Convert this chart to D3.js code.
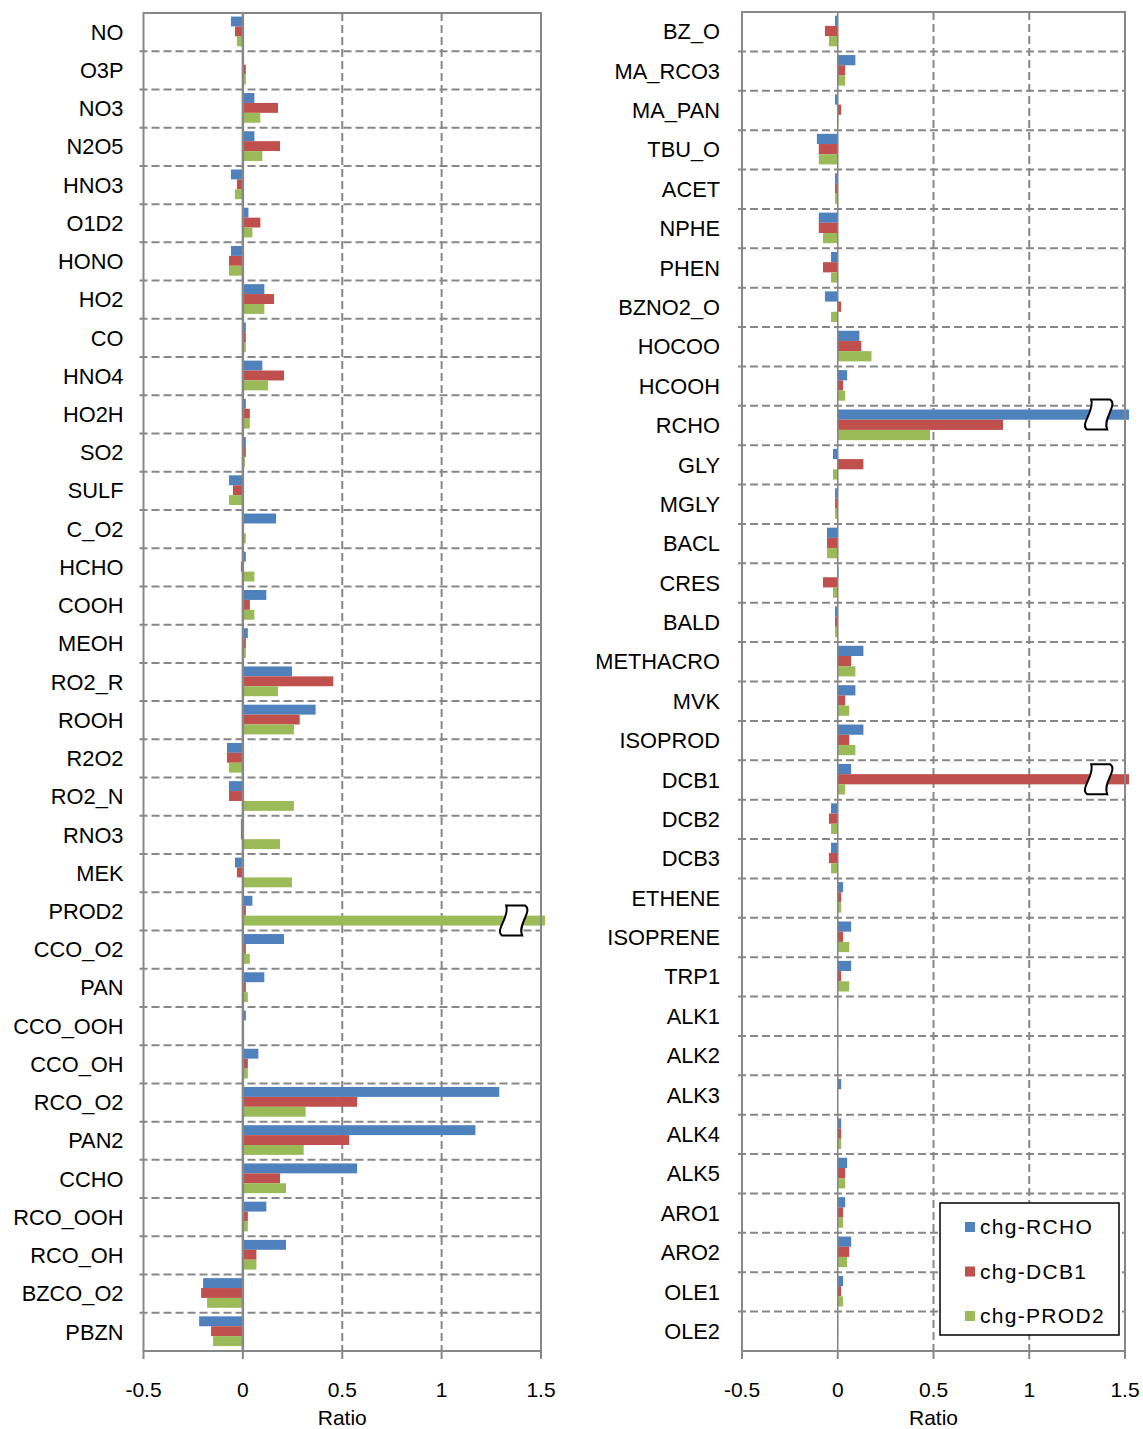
<!DOCTYPE html>
<html>
<head>
<meta charset="utf-8">
<script src="https://cdn.jsdelivr.net/npm/d3@7/dist/d3.min.js"></script>
<style>
  html, body { margin: 0; padding: 0; background: #fff; }
  svg { display: block; font-family: "Liberation Sans", Arial, sans-serif; }
</style>
</head>
<body>
<svg id="chart" width="1143" height="1429"></svg>
<script>
// ---------- DATA ----------
const seriesNames = ["chg-RCHO", "chg-DCB1", "chg-PROD2"];
const seriesColors = ["#4F81BD", "#C0504D", "#9BBB59"];
const xTicks = [-0.5, 0, 0.5, 1, 1.5];
const xTickLabels = ["-0.5", "0", "0.5", "1", "1.5"];

const leftCats = ["NO","O3P","NO3","N2O5","HNO3","O1D2","HONO","HO2","CO","HNO4","HO2H","SO2","SULF","C_O2","HCHO","COOH","MEOH","RO2_R","ROOH","R2O2","RO2_N","RNO3","MEK","PROD2","CCO_O2","PAN","CCO_OOH","CCO_OH","RCO_O2","PAN2","CCHO","RCO_OOH","RCO_OH","BZCO_O2","PBZN"];
const leftRCHO  = [-0.06,0,0.058,0.058,-0.06,0.028,-0.06,0.108,0.015,0.098,0.015,0.015,-0.07,0.167,0.015,0.118,0.025,0.247,0.366,-0.08,-0.07,-0.01,-0.04,0.048,0.207,0.108,0.015,0.078,1.29,1.17,0.575,0.118,0.217,-0.2,-0.22];
const leftDCB1  = [-0.04,0.015,0.177,0.187,-0.03,0.088,-0.07,0.157,0.015,0.207,0.035,0.015,-0.05,0,-0.01,0.035,0.015,0.455,0.286,-0.08,-0.07,-0.01,-0.03,0.015,0.015,0.015,0,0.025,0.575,0.535,0.187,0.025,0.068,-0.21,-0.16];
const leftPROD2 = [-0.03,0.015,0.088,0.098,-0.04,0.048,-0.07,0.108,0.015,0.127,0.035,0.01,-0.07,0.015,0.058,0.058,0.015,0.177,0.257,-0.07,0.257,0.187,0.247,2.0,0.035,0.025,0,0.025,0.316,0.306,0.217,0.025,0.068,-0.18,-0.15];

const rightCats = ["BZ_O","MA_RCO3","MA_PAN","TBU_O","ACET","NPHE","PHEN","BZNO2_O","HOCOO","HCOOH","RCHO","GLY","MGLY","BACL","CRES","BALD","METHACRO","MVK","ISOPROD","DCB1","DCB2","DCB3","ETHENE","ISOPRENE","TRP1","ALK1","ALK2","ALK3","ALK4","ALK5","ARO1","ARO2","OLE1","OLE2"];
const rightRCHO  = [-0.014,0.092,-0.014,-0.109,-0.014,-0.099,-0.035,-0.067,0.113,0.049,2.0,-0.025,-0.014,-0.056,0.004,-0.014,0.134,0.092,0.134,0.07,-0.035,-0.035,0.028,0.07,0.07,0.002,0.002,0.018,0.018,0.049,0.039,0.07,0.028,0.002];
const rightDCB1  = [-0.067,0.039,0.018,-0.099,-0.014,-0.099,-0.077,0.018,0.123,0.028,0.863,0.134,-0.014,-0.056,-0.077,-0.014,0.07,0.039,0.06,2.0,-0.046,-0.046,0.018,0.028,0.018,0,0,0,0.018,0.039,0.028,0.06,0.018,0.002];
const rightPROD2 = [-0.046,0.039,0.004,-0.099,-0.014,-0.077,-0.035,-0.035,0.176,0.039,0.482,-0.025,-0.014,-0.056,-0.025,-0.014,0.092,0.06,0.092,0.039,-0.035,-0.035,0.018,0.06,0.06,0,0,0,0.018,0.039,0.028,0.049,0.028,0];

const breakAt = 1.36;

// ---------- DRAW ----------
const svg = d3.select("#chart");
const gray = "#878787";

function drawPanel(cfg) {
  const { cats, vals, left, right, top, bottom, zeroW } = cfg;
  const g = svg.append("g");
  const x = d3.scaleLinear().domain([-0.5, 1.5]).range([left, right]);
  const y0 = d3.scaleBand().domain(cats).range([top, bottom]).paddingInner(0).paddingOuter(0);
  const y1 = d3.scaleBand().domain(seriesNames).range([0, y0.bandwidth()]).paddingInner(0).paddingOuter(0.43).align(0.42);

  // horizontal gridlines at category boundaries
  const bounds = cats.slice(1).map(c => y0(c));
  g.selectAll("line.hg").data(bounds).join("line")
    .attr("x1", left - 4).attr("x2", right)
    .attr("y1", d => d).attr("y2", d => d)
    .attr("stroke", gray).attr("stroke-width", 2).attr("stroke-dasharray", "8,4");

  // vertical gridlines
  g.selectAll("line.vg").data([0.5, 1]).join("line")
    .attr("x1", d => x(d)).attr("x2", d => x(d))
    .attr("y1", top).attr("y2", bottom)
    .attr("stroke", gray).attr("stroke-width", 2).attr("stroke-dasharray", "8,4");

  // bars
  const maxX = x(1.5) + 4;
  const data = [];
  cats.forEach((c, i) => seriesNames.forEach((s, j) => data.push({ c, s, j, v: vals[j][i] })));
  g.selectAll("rect.bar").data(data).join("rect")
    .attr("x", d => Math.min(x(0), x(d.v)))
    .attr("width", d => Math.abs(Math.min(x(d.v), maxX) - x(0)))
    .attr("y", d => y0(d.c) + y1(d.s))
    .attr("height", y1.bandwidth())
    .attr("fill", d => seriesColors[d.j]);

  // break symbols for clipped bars
  const breaks = data.filter(d => d.v > 1.5);
  g.selectAll("path.brk").data(breaks).join("path")
    .attr("transform", d => `translate(${x(breakAt)},${y0(d.c) + y1(d.s) + y1.bandwidth() / 2})`)
    .attr("d", "M -7,-15 L 12,-15 C 20,-10 4,4 9,15 L -11,15 C -19,10 -3,-4 -7,-15 Z")
    .attr("fill", "#fff").attr("stroke", "#000").attr("stroke-width", 2);

  // zero line
  g.append("line").attr("x1", x(0)).attr("x2", x(0)).attr("y1", top).attr("y2", bottom)
    .attr("stroke", gray).attr("stroke-width", zeroW);

  // border
  g.append("rect").attr("x", left).attr("y", top).attr("width", right - left).attr("height", bottom - top)
    .attr("fill", "none").attr("stroke", gray).attr("stroke-width", 2);

  // x axis ticks
  g.selectAll("line.xt").data(xTicks).join("line")
    .attr("x1", d => x(d)).attr("x2", d => x(d)).attr("y1", bottom).attr("y2", bottom + 8)
    .attr("stroke", gray).attr("stroke-width", 2);
  g.selectAll("text.xtl").data(xTicks).join("text")
    .attr("x", d => x(d)).attr("y", 1390).attr("dy", "0.35em")
    .attr("text-anchor", "middle").attr("font-size", 21).attr("fill", "#000")
    .text((d, i) => xTickLabels[i]);
  g.append("text").attr("x", x(0.5)).attr("y", 1418).attr("dy", "0.35em")
    .attr("text-anchor", "middle").attr("font-size", 21).attr("fill", "#000").text("Ratio");

  // category labels
  g.selectAll("text.cat").data(cats).join("text")
    .attr("x", left - cfg.labelGap).attr("y", d => y0(d) + y0.bandwidth() / 2).attr("dy", "0.35em")
    .attr("text-anchor", "end").attr("font-size", 21.8).attr("fill", "#000")
    .text(d => d);
}

drawPanel({ cats: leftCats, vals: [leftRCHO, leftDCB1, leftPROD2], left: 143.5, right: 541, top: 13, bottom: 1351, zeroW: 2.5, labelGap: 20 });
drawPanel({ cats: rightCats, vals: [rightRCHO, rightDCB1, rightPROD2], left: 742, right: 1125, top: 12, bottom: 1351, zeroW: 1.6, labelGap: 22 });

// legend
const lg = svg.append("g");
lg.append("rect").attr("x", 940).attr("y", 1203).attr("width", 179).attr("height", 132)
  .attr("fill", "#fff").attr("stroke", "#000").attr("stroke-width", 1.5);
const ly = d3.scalePoint().domain(seriesNames).range([1227, 1316]);
lg.selectAll("rect.sw").data(seriesNames).join("rect")
  .attr("x", 965).attr("y", d => ly(d) - 5).attr("width", 10).attr("height", 10)
  .attr("fill", (d, i) => seriesColors[i]);
lg.selectAll("text.lt").data(seriesNames).join("text")
  .attr("x", 980).attr("y", d => ly(d)).attr("dy", "0.35em")
  .attr("font-size", 21).attr("letter-spacing", "1.3px").attr("fill", "#000")
  .text(d => d);
</script>
</body>
</html>
